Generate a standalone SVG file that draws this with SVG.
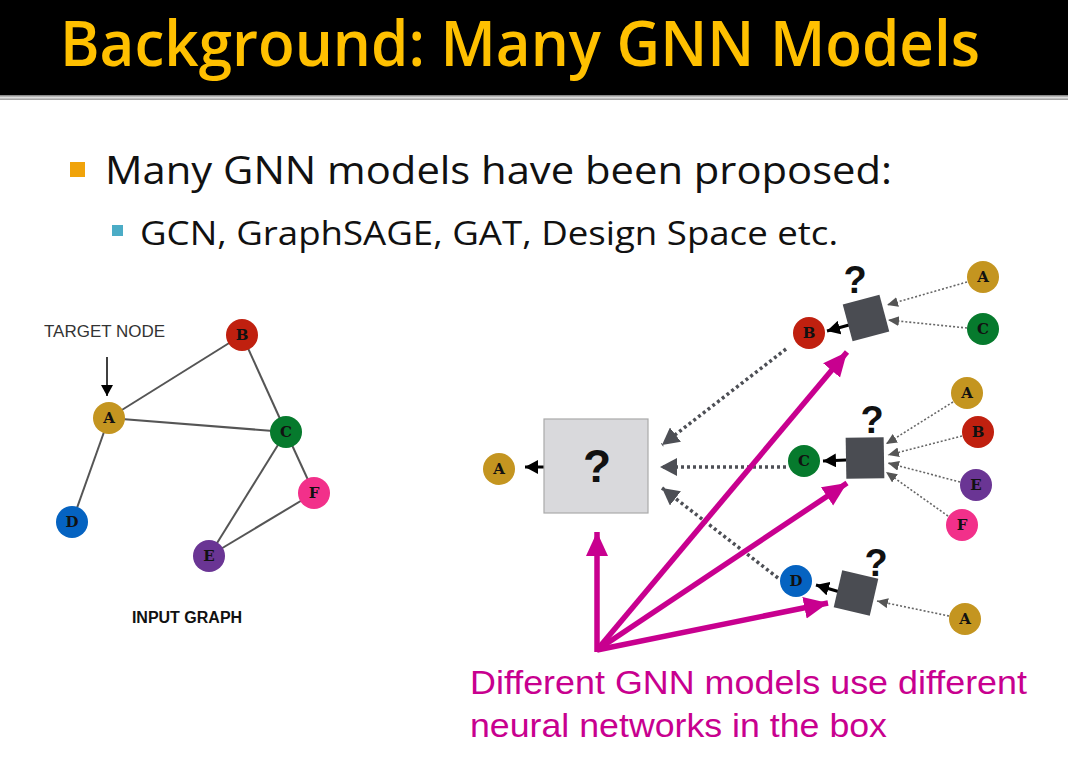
<svg xmlns="http://www.w3.org/2000/svg" width="1068" height="766" viewBox="0 0 1068 766">
<style>
.nd{stroke:none}
.lt{font-family:'DejaVu Serif','Liberation Serif',serif;font-weight:bold;font-size:15px;fill:#111;text-anchor:middle}
.edge{stroke:#555;stroke-width:2;fill:none}
.dotb{stroke:#4d4f55;stroke-width:3.5;stroke-dasharray:3 3;fill:none}
.dots{stroke:#666;stroke-width:1.6;stroke-dasharray:2 2;fill:none}
.pink{stroke:#c8008f;stroke-width:5.5;fill:none}
.blk{stroke:#000;stroke-width:3;fill:none}
.q{font-family:'Liberation Sans',Arial,sans-serif;font-weight:bold;fill:#111;text-anchor:middle}
.sb{fill:#4a4c52}
</style>
<defs>
<marker id="mp" markerUnits="userSpaceOnUse" markerWidth="26" markerHeight="24" refX="24" refY="12" orient="auto"><path d="M0,1 L24,12 L0,23 Z" fill="#c8008f"/></marker>
<marker id="mb" markerUnits="userSpaceOnUse" markerWidth="14" markerHeight="14" refX="13" refY="7" orient="auto"><path d="M0,0 L13,7 L0,14 Z" fill="#000"/></marker>
<marker id="mg" markerUnits="userSpaceOnUse" markerWidth="18" markerHeight="18" refX="17" refY="9" orient="auto"><path d="M0,0 L17,9 L0,18 Z" fill="#4d4f55"/></marker>
<marker id="ms" markerUnits="userSpaceOnUse" markerWidth="12" markerHeight="12" refX="11" refY="5" orient="auto"><path d="M0,0 L11,5 L0,10 Z" fill="#555"/></marker>
<marker id="mt" markerUnits="userSpaceOnUse" markerWidth="12" markerHeight="12" refX="11" refY="6" orient="auto"><path d="M0,0 L11,6 L0,12 Z" fill="#000"/></marker>
<linearGradient id="hl" x1="0" y1="0" x2="0" y2="1"><stop offset="0" stop-color="#777"/><stop offset="0.5" stop-color="#ddd"/><stop offset="1" stop-color="#999"/></linearGradient>
</defs>
<rect width="1068" height="766" fill="#fff"/>
<g id="header">
<rect x="0" y="0" width="1068" height="95" fill="#000"/>
<rect x="0" y="95" width="1068" height="5" fill="url(#hl)"/>
<text x="60" y="66" font-family="Open Sans, sans-serif" font-weight="600" font-size="64" fill="#ffc000" textLength="920" lengthAdjust="spacingAndGlyphs">Background: Many GNN Models</text>
</g>
<g id="bullets">
<rect x="70" y="162" width="15" height="15" fill="#f0a30a"/>
<text x="105" y="184" font-family="Open Sans, sans-serif" font-size="39" fill="#111" textLength="787" lengthAdjust="spacingAndGlyphs">Many GNN models have been proposed:</text>
<rect x="112" y="225" width="11" height="11" fill="#4bacc6"/>
<text x="140" y="245" font-family="Open Sans, sans-serif" font-size="32" fill="#111" textLength="698" lengthAdjust="spacingAndGlyphs">GCN,  GraphSAGE, GAT, Design Space etc.</text>
</g>
<g id="input-graph-edges">
<line class="edge" x1="109" y1="418" x2="242" y2="335"/>
<line class="edge" x1="109" y1="418" x2="286" y2="432"/>
<line class="edge" x1="109" y1="418" x2="72" y2="522"/>
<line class="edge" x1="242" y1="335" x2="286" y2="432"/>
<line class="edge" x1="286" y1="432" x2="209" y2="556"/>
<line class="edge" x1="286" y1="432" x2="314" y2="493"/>
<line class="edge" x1="314" y1="493" x2="209" y2="556"/>
<line x1="107" y1="357" x2="107" y2="396" stroke="#000" stroke-width="1.5" marker-end="url(#mt)"/>
</g>
<g id="target-label"><text x="44" y="337" font-family="Liberation Sans, Arial, sans-serif" font-size="16" fill="#333" textLength="121" lengthAdjust="spacingAndGlyphs">TARGET NODE</text></g>
<g id="g-A"><circle class="nd" cx="109" cy="418" r="16" fill="#c49520"/><text class="lt" x="109" y="423">A</text></g>
<g id="g-B"><circle class="nd" cx="242" cy="335" r="16" fill="#c0200f"/><text class="lt" x="242" y="340">B</text></g>
<g id="g-C"><circle class="nd" cx="286" cy="432" r="16" fill="#067a2d"/><text class="lt" x="286" y="437">C</text></g>
<g id="g-D"><circle class="nd" cx="72" cy="522" r="16" fill="#0563c1"/><text class="lt" x="72" y="527">D</text></g>
<g id="g-E"><circle class="nd" cx="209" cy="556" r="16" fill="#6a3594"/><text class="lt" x="209" y="561">E</text></g>
<g id="g-F"><circle class="nd" cx="314" cy="493" r="16" fill="#f2308a"/><text class="lt" x="314" y="498">F</text></g>
<g id="input-label"><text x="187" y="623" font-family="Liberation Sans, Arial, sans-serif" font-weight="bold" font-size="16" fill="#111" text-anchor="middle">INPUT GRAPH</text></g>

<g id="connectors">
<line class="dotb" x1="786" y1="349" x2="662" y2="445" marker-end="url(#mg)"/>
<line class="dotb" x1="786" y1="467" x2="660" y2="467" marker-end="url(#mg)"/>
<line class="dotb" x1="778" y1="578" x2="662" y2="488" marker-end="url(#mg)"/>
<line class="pink" x1="597" y1="652" x2="597" y2="532" marker-end="url(#mp)"/>
<line class="pink" x1="597" y1="650" x2="847" y2="352" marker-end="url(#mp)"/>
<line class="pink" x1="597" y1="650" x2="847" y2="483" marker-end="url(#mp)"/>
<line class="pink" x1="597" y1="650" x2="828" y2="603" marker-end="url(#mp)"/>
<line class="blk" x1="544" y1="467" x2="525" y2="467" marker-end="url(#mb)"/>
<line class="blk" x1="849" y1="325" x2="827" y2="331" marker-end="url(#mb)"/>
<line class="blk" x1="846" y1="460" x2="823" y2="461" marker-end="url(#mb)"/>
<line class="blk" x1="840" y1="592" x2="816" y2="585" marker-end="url(#mb)"/>
<line class="dots" x1="967" y1="282" x2="887" y2="305" marker-end="url(#ms)"/>
<line class="dots" x1="967" y1="328" x2="888" y2="320" marker-end="url(#ms)"/>
<line class="dots" x1="953" y1="402" x2="886" y2="444" marker-end="url(#ms)"/>
<line class="dots" x1="962" y1="436" x2="888" y2="455" marker-end="url(#ms)"/>
<line class="dots" x1="960" y1="482" x2="888" y2="463" marker-end="url(#ms)"/>
<line class="dots" x1="948" y1="516" x2="886" y2="472" marker-end="url(#ms)"/>
<line class="dots" x1="949" y1="616" x2="877" y2="601" marker-end="url(#ms)"/>
</g>

<g id="big-box">
<rect x="544" y="419" width="104" height="94" fill="#d9d9dc" stroke="#aaa" stroke-width="1.2"/>
<text class="q" x="597" y="482" font-size="46">?</text>
</g>
<g id="out-A"><circle class="nd" cx="499" cy="469" r="16" fill="#c49520"/><text class="lt" x="499" y="474">A</text></g>

<g id="box1">
<rect class="sb" x="-19" y="-19" width="38" height="38" transform="translate(866,318) rotate(-15)"/>
<text class="q" x="855" y="293" font-size="38">?</text>
</g>
<g id="n1-B"><circle class="nd" cx="809" cy="333" r="16" fill="#c0200f"/><text class="lt" x="809" y="338">B</text></g>
<g id="n1-A"><circle class="nd" cx="983" cy="277" r="16" fill="#c49520"/><text class="lt" x="983" y="282">A</text></g>
<g id="n1-C"><circle class="nd" cx="983" cy="329" r="16" fill="#067a2d"/><text class="lt" x="983" y="334">C</text></g>

<g id="box2">
<rect class="sb" x="-19" y="-20.5" width="38" height="41" transform="translate(865,458) rotate(-1)"/>
<text class="q" x="872" y="433" font-size="38">?</text>
</g>
<g id="n2-C"><circle class="nd" cx="804" cy="461" r="16" fill="#067a2d"/><text class="lt" x="804" y="466">C</text></g>
<g id="n2-A"><circle class="nd" cx="967" cy="393" r="16" fill="#c49520"/><text class="lt" x="967" y="398">A</text></g>
<g id="n2-B"><circle class="nd" cx="978" cy="432" r="16" fill="#c0200f"/><text class="lt" x="978" y="437">B</text></g>
<g id="n2-E"><circle class="nd" cx="976" cy="485" r="16" fill="#6a3594"/><text class="lt" x="976" y="490">E</text></g>
<g id="n2-F"><circle class="nd" cx="962" cy="525" r="16" fill="#f2308a"/><text class="lt" x="962" y="530">F</text></g>

<g id="box3">
<rect class="sb" x="-18.5" y="-19" width="37" height="38" transform="translate(856,593) rotate(13)"/>
<text class="q" x="876" y="576" font-size="38">?</text>
</g>
<g id="n3-D"><circle class="nd" cx="796" cy="581" r="16" fill="#0563c1"/><text class="lt" x="796" y="586">D</text></g>
<g id="n3-A"><circle class="nd" cx="965" cy="619" r="16" fill="#c49520"/><text class="lt" x="965" y="624">A</text></g>

<g id="caption">
<text x="470" y="694" font-family="Liberation Sans, Arial, sans-serif" font-size="33" fill="#c8008f" textLength="557" lengthAdjust="spacingAndGlyphs">Different GNN models use different</text>
<text x="470" y="737" font-family="Liberation Sans, Arial, sans-serif" font-size="33" fill="#c8008f" textLength="417" lengthAdjust="spacingAndGlyphs">neural networks in the box</text>
</g>
</svg>
